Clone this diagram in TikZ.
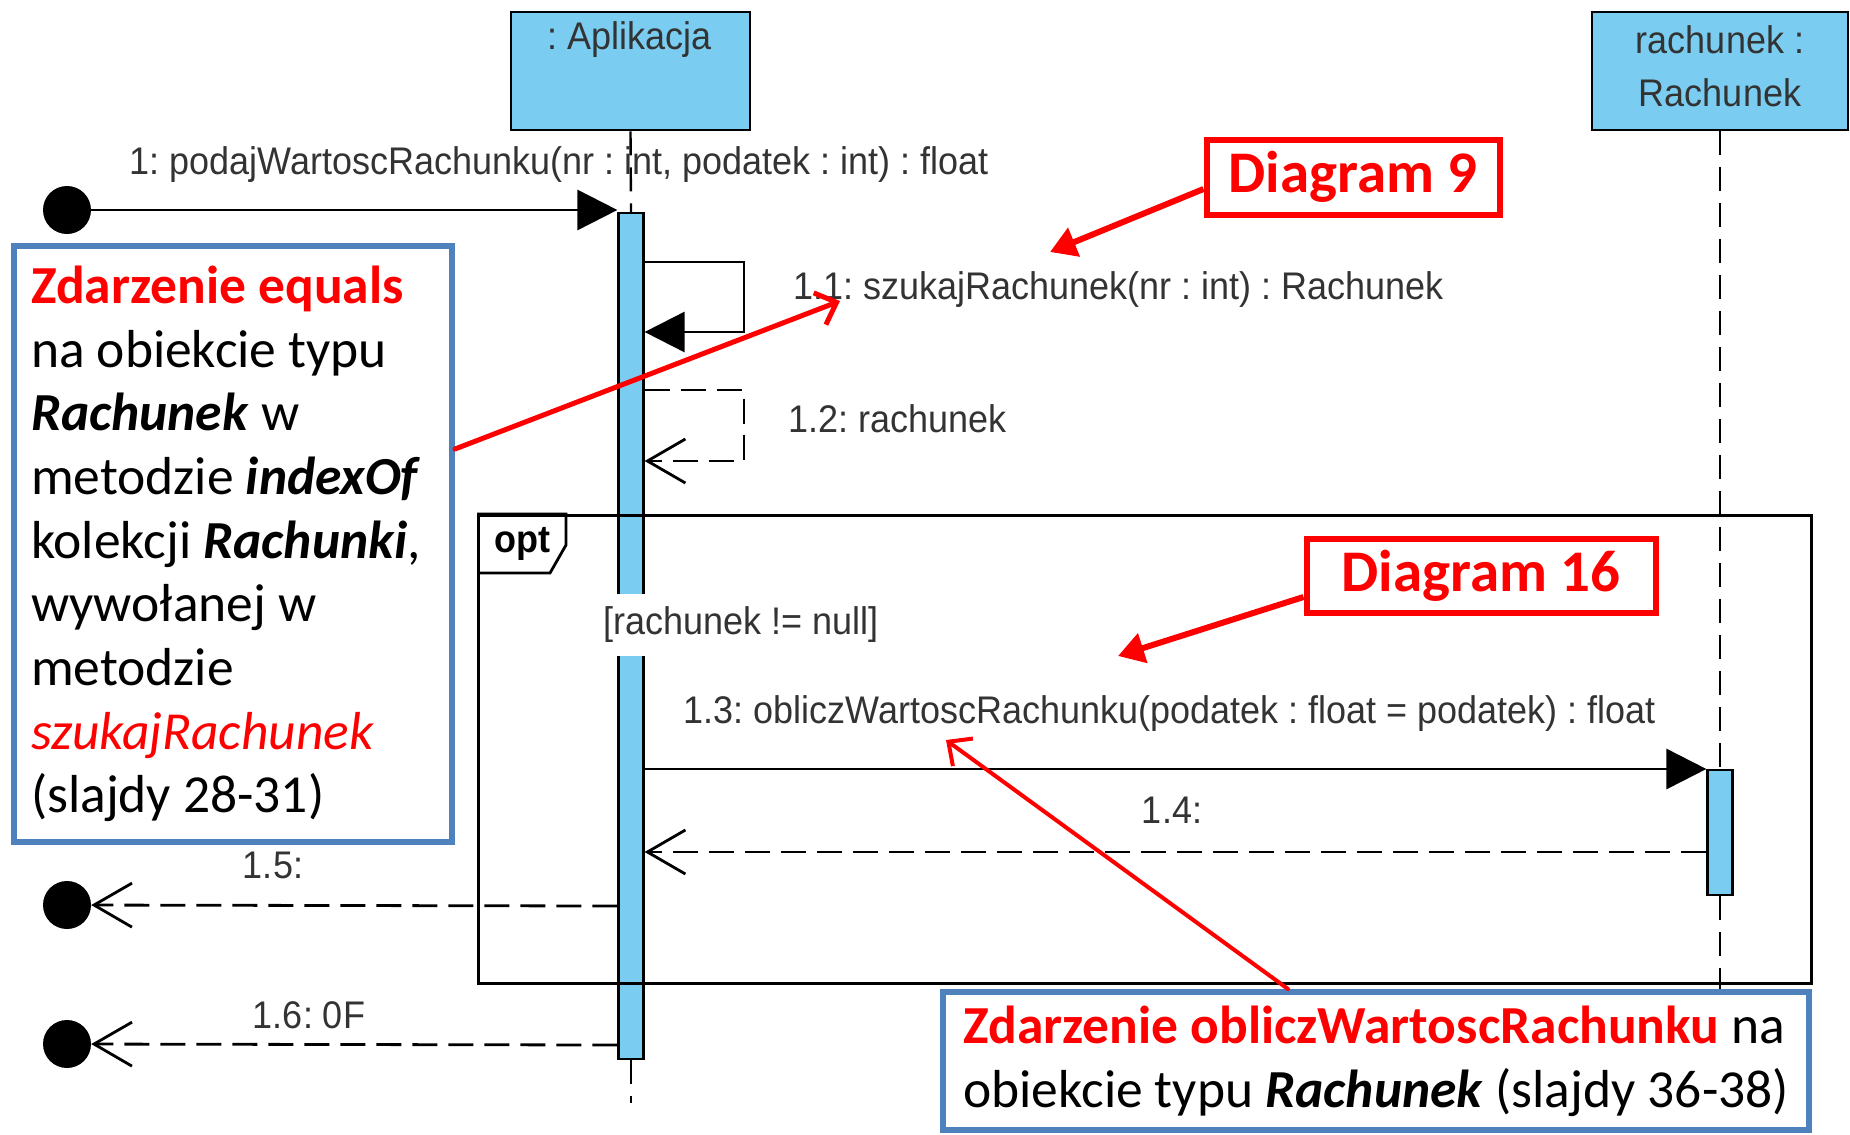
\documentclass[tikz,border=0pt]{standalone}
\usepackage{fontspec}
\setmainfont{Carlito}
\newfontfamily\umlfont[FakeStretch=0.935]{Liberation Sans}
\usetikzlibrary{arrows.meta,calc}

\definecolor{lifeblue}{HTML}{7ACDF1}
\definecolor{notered}{HTML}{FF0000}
\definecolor{noteblue}{HTML}{4F81BD}
\definecolor{umlgray}{HTML}{333333}

\tikzset{
  objbox/.style={draw=black, line width=2.6pt, fill=lifeblue, inner sep=0pt},
  actbar/.style={draw=black, line width=2.2pt, fill=lifeblue, inner sep=0pt,
    minimum width=25pt, anchor=north},
  lifeline/.style={draw=black, line width=2.4pt, dash pattern=on 24pt off 12pt},
  umltext/.style={text=umlgray, inner sep=0pt,
    font=\umlfont\frenchspacing\fontsize{38.5}{46}\selectfont},
  msg/.style={draw=black, line width=2.8pt, -{Triangle[length=40pt,width=40pt]}},
  reply/.style={draw=black, line width=2.8pt, dash pattern=on 25pt off 11pt,
    -{Straight Barb[length=38pt,width=44pt,line width=2.8pt]}},
  endpoint/.style={circle, fill=black, minimum size=48pt, inner sep=0pt},
  frame/.style={draw=black, line width=2.8pt},
  notebox/.style={draw=noteblue, line width=6pt, fill=white, align=flush left,
    font=\fontsize{53.5}{63.7}\selectfont},
  tagbox/.style={draw=notered, line width=6pt, fill=white, text=notered,
    font=\fontsize{59}{70}\selectfont\bfseries},
  callout/.style={draw=notered, line width=6pt,
    -{Triangle[length=26pt,width=30pt]}},
  pointer/.style={draw=notered, line cap=round,
    -{Straight Barb[length=18pt,width=34pt]}},
}

\begin{document}
\begin{tikzpicture}[x=1pt,y=-1pt]
\useasboundingbox (0,0) rectangle (1850,1135);

% lifeline heads
\node[objbox, minimum width=239pt, minimum height=118pt] (objA) at (630.5,71) {};
\node[umltext] (objAname) at (630,40) {: Aplikacja};
\node[objbox, minimum width=256pt, minimum height=118pt] (objR) at (1720,71) {};
\node[umltext, align=center, font=\umlfont\frenchspacing\fontsize{38.5}{53}\selectfont] (objRname) at (1720,66) {rachunek :\\Rachunek};

% activation bars
\node[actbar, minimum height=846pt] (actA) at (631,212) {};
\node[actbar, minimum height=125pt] (actR) at (1720,769) {};

% dashed lifelines
\coordinate (endA) at (631,1103);
\coordinate (endR) at (1720,989);
\draw[lifeline] (objA.south) -- (actA.north);
\draw[lifeline] (actA.south) -- (endA);
\draw[lifeline] (objR.south) -- (actR.north);
\draw[lifeline] (actR.south) -- (endR);

% opt combined fragment
\node[frame, minimum width=1333pt, minimum height=468pt, anchor=north west, inner sep=0pt] (optF) at (477,514) {};
\draw[frame] (optF.north west) -- (566,514) -- (566,545) -- (550,573) -- (477,573);
\node[inner sep=0pt, text=black, font=\umlfont\fontsize{38.5}{46}\selectfont\bfseries] (optName) at (522,544) {opt};
\node[umltext, fill=white, minimum height=62pt, inner xsep=2pt] (guard) at (741,625) {[rachunek != null]};

% found message 1
\node[endpoint] (start) at (67,210) {};
\draw[msg] (start) -- (actA.west |- 0,210);
\node[umltext] (m1) at (559,165) {1: podajWartoscRachunku(nr : int, podatek : int) : float};

% self call 1.1
\draw[msg] (actA.east |- 0,262) -- (744,262) -- (744,332) -- (actA.east |- 0,332);
\node[umltext, anchor=west] (m11) at (793,290) {1.1: szukajRachunek(nr : int) : Rachunek};

% self reply 1.2
\draw[reply] (actA.east |- 0,390) -- (744,390) -- (744,461) -- (actA.east |- 0,461);
\node[umltext, anchor=west] (m12) at (788,419) {1.2: rachunek};

% message 1.3 and reply 1.4
\draw[msg] (actA.east |- 0,769) -- (actR.west |- 0,769);
\node[umltext] (m13) at (1170,714) {1.3: obliczWartoscRachunku(podatek : float = podatek) : float};
\draw[reply] (actR.west |- 0,852) -- (actA.east |- 0,852);
\node[umltext] (m14) at (1172,810) {1.4:};

% lost replies 1.5 and 1.6
\node[endpoint] (end5) at (67,905) {};
\draw[reply] (actA.west |- 0,906) -- (end5);
\node[umltext] (m15) at (273,865) {1.5:};
\node[endpoint] (end6) at (67,1044) {};
\draw[reply] (actA.west |- 0,1045) -- (end6);
\node[umltext] (m16) at (309,1015) {1.6: 0F};

% annotations
\node[notebox, minimum width=438pt, minimum height=596pt, anchor=north west,
      inner xsep=17pt, text width=404pt] (noteL) at (11,243) {%
\textcolor{notered}{\textbf{Zdarzenie equals}}\\
na obiekcie typu\\
\textbf{\textit{Rachunek}} w\\
metodzie \textbf{\textit{indexOf}}\\
kolekcji \textbf{\textit{Rachunki}},\\
wywołanej w\\
metodzie\\
\textcolor{notered}{\textit{szukajRachunek}}\\
(slajdy 28-31)};

\node[notebox, minimum width=866pt, minimum height=138pt, inner xsep=14pt] (noteR) at (1376,1061) {%
\textcolor{notered}{\textbf{Zdarzenie obliczWartoscRachunku}} na\\
obiekcie typu \textbf{\textit{Rachunek}} (slajdy 36-38)};

\node[tagbox, minimum width=293pt, minimum height=75pt, inner xsep=8pt] (d9) at (1353,177) {Diagram 9};
\node[tagbox, minimum width=349pt, minimum height=74pt, inner xsep=8pt] (d16) at (1481,576) {Diagram 16};

\coordinate (t9) at (1050,252);
\coordinate (t16) at (1118,656);
\coordinate (tL) at (840,301);
\coordinate (tR) at (946,740);
\draw[callout] (d9.west |- 0,189) -- (t9);
\draw[callout] (d16.west |- 0,597) -- (t16);
\draw[pointer, line width=5pt] (noteL.east |- 0,449) -- (tL);
\draw[pointer, line width=4pt] (noteR.north -| 1288,0) -- (tR);
\end{tikzpicture}
\end{document}
